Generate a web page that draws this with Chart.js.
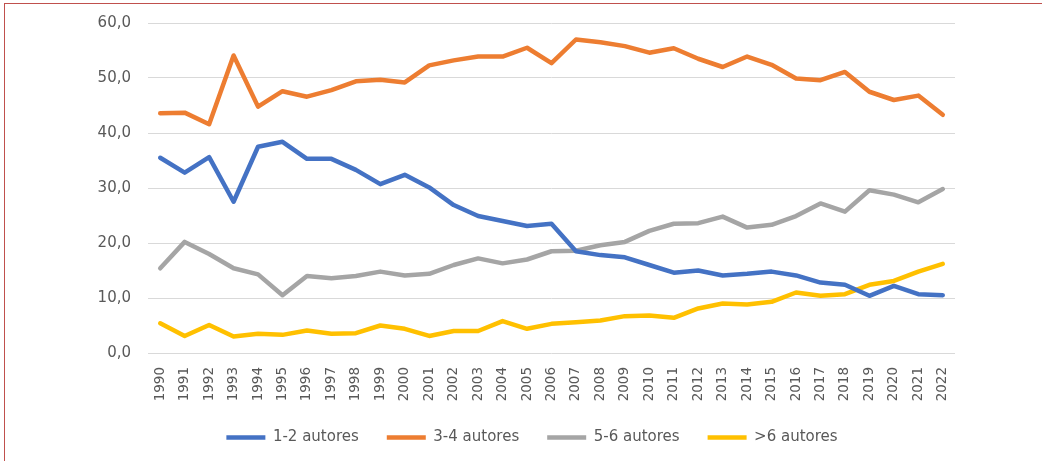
<!DOCTYPE html>
<html>
<head>
<meta charset="utf-8">
<script src="https://cdn.jsdelivr.net/npm/chart.js@4.4.0/dist/chart.umd.min.js"></script>
<style>
  html, body { margin: 0; padding: 0; background: #fff; overflow: hidden; }
  #wrap { position: absolute; left: 0; top: 0; width: 1042px; height: 461px; }
  #frame { position: absolute; left: 4px; top: 3px; width: 1100px; height: 500px;
           border-left: 1px solid #C0504D; border-top: 1px solid #C0504D; pointer-events: none; }
</style>
</head>
<body>
<div id="wrap">
  <canvas id="c" width="1042" height="461"></canvas>
  <div id="frame"></div>
</div>
<script>
const years = ['1990','1991','1992','1993','1994','1995','1996','1997','1998','1999','2000','2001','2002','2003','2004','2005','2006','2007','2008','2009','2010','2011','2012','2013','2014','2015','2016','2017','2018','2019','2020','2021','2022'];

const autores12 = [35.5,32.8,35.6,27.5,37.5,38.4,35.3,35.3,33.3,30.7,32.4,30.1,26.9,24.9,24.0,23.1,23.5,18.5,17.8,17.4,16.0,14.6,15.0,14.1,14.4,14.8,14.1,12.8,12.4,10.4,12.2,10.7,10.5];
const autores34 = [43.6,43.7,41.6,54.1,44.8,47.6,46.6,47.8,49.4,49.7,49.2,52.3,53.2,53.9,53.9,55.5,52.7,57.0,56.5,55.8,54.6,55.4,53.5,52.0,53.9,52.4,49.9,49.6,51.1,47.5,46.0,46.8,43.3];
const autores56 = [15.4,20.2,18.0,15.4,14.3,10.5,14.0,13.6,14.0,14.8,14.1,14.4,16.0,17.2,16.3,17.0,18.5,18.6,19.6,20.2,22.2,23.5,23.6,24.8,22.8,23.3,24.9,27.2,25.7,29.6,28.8,27.4,29.8];
const autores6p = [5.4,3.1,5.1,3.0,3.5,3.3,4.1,3.5,3.6,5.0,4.4,3.1,4.0,4.0,5.8,4.4,5.3,5.6,5.9,6.7,6.8,6.4,8.1,9.0,8.8,9.3,11.0,10.4,10.7,12.4,13.1,14.8,16.2];

const seriesNames = ['1-2 autores','3-4 autores','5-6 autores','>6 autores'];
const seriesColors = ['#4472C4','#ED7D31','#A5A5A5','#FFC000'];
const seriesData = [autores12, autores34, autores56, autores6p];

const FONT = 'DejaVu Sans';
const TEXT = '#595959';

// shift the legend so it is centred like the original
const legendShift = {
  id: 'legendShift',
  beforeDraw(chart) {
    const lg = chart.legend;
    if (lg && !lg._shifted) { lg.left += 19; lg._shifted = true; }
  }
};

new Chart(document.getElementById('c'), {
  type: 'line',
  data: {
    labels: years,
    datasets: seriesData.map((d, i) => ({
      label: seriesNames[i],
      data: d,
      borderColor: seriesColors[i],
      backgroundColor: seriesColors[i],
      borderWidth: 4.5,
      borderCapStyle: 'round',
      borderJoinStyle: 'round',
      pointRadius: 0,
      pointHoverRadius: 0,
      tension: 0,
      fill: false
    }))
  },
  plugins: [legendShift],
  options: {
    responsive: false,
    animation: false,
    devicePixelRatio: 1,
    layout: { padding: { left: 90, right: 87, top: 23, bottom: 6 } },
    plugins: {
      tooltip: { enabled: false },
      legend: {
        position: 'bottom',
        align: 'center',
        labels: {
          usePointStyle: true,
          pointStyle: 'line',
          pointStyleWidth: 39,
          boxHeight: 15,
          padding: 28,
          color: TEXT,
          font: { family: FONT, size: 15 }
        }
      }
    },
    scales: {
      x: {
        offset: true,
        grid: { display: false, drawTicks: false },
        border: { display: false },
        ticks: {
          color: TEXT,
          font: { family: FONT, size: 13.5 },
          minRotation: 90,
          maxRotation: 90,
          autoSkip: false,
          padding: 14
        },
        afterFit: s => { s.height = 49; s.paddingTop = 0; }
      },
      y: {
        min: 0,
        max: 60,
        grid: { color: '#D9D9D9', lineWidth: 1, drawTicks: false },
        border: { display: false },
        ticks: {
          stepSize: 10,
          color: TEXT,
          font: { family: FONT, size: 15 },
          padding: 17,
          callback: v => v.toFixed(1).replace('.', ',')
        },
        afterFit: s => { s.width = 58; s.paddingTop = 0; s.paddingBottom = 0; }
      }
    }
  }
});
</script>
</body>
</html>
